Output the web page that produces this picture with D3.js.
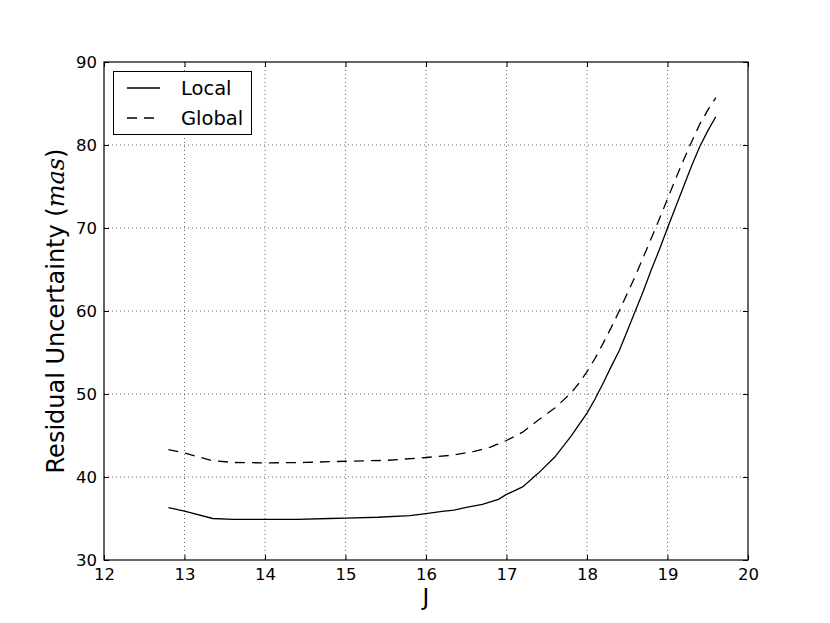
<!DOCTYPE html>
<html><head><meta charset="utf-8">
<script src="https://cdn.jsdelivr.net/npm/d3@7"></script>
<style>body{margin:0;background:#fff}svg{display:block}text{font-family:"DejaVu Sans",sans-serif;fill:#000}</style>
</head><body>
<svg id="c" width="830" height="623"></svg>
<script>
const localJ = [12.8,13.0,13.35,13.6,14.0,14.4,14.8,15.0,15.4,15.8,16.0,16.2,16.35,16.5,16.7,16.9,17.0,17.2,17.4,17.6,17.8,18.0,18.1,18.2,18.3,18.4,18.5,18.6,18.7,18.8,18.9,19.0,19.1,19.2,19.3,19.4,19.5,19.6];
const localU = [36.3,35.9,35.0,34.9,34.9,34.9,35.0,35.05,35.15,35.35,35.6,35.85,36.0,36.35,36.7,37.3,37.9,38.8,40.5,42.4,44.9,47.7,49.4,51.3,53.3,55.2,57.6,60.0,62.4,65.0,67.4,70.0,72.5,75.0,77.5,79.8,81.7,83.4];
const globalJ = [12.8,13.0,13.33,13.6,14.0,14.5,15.0,15.5,16.0,16.35,16.6,16.8,17.0,17.2,17.4,17.6,17.7,17.8,17.9,18.0,18.1,18.2,18.3,18.4,18.5,18.6,18.7,18.8,18.9,19.0,19.1,19.2,19.3,19.4,19.5,19.6];
const globalU = [43.3,42.9,42.0,41.75,41.7,41.75,41.9,42.0,42.35,42.65,43.1,43.6,44.4,45.4,46.9,48.3,49.2,50.1,51.3,52.7,54.3,56.1,58.0,60.0,62.1,64.2,66.5,68.8,71.1,73.5,75.9,78.2,80.4,82.5,84.2,85.7];
const xTicks = [12,13,14,15,16,17,18,19,20];
const yTicks = [30,40,50,60,70,80,90];
const seriesNames = ["Local","Global"];

const svg = d3.select("#c");
const L=104, R=748, T=62, B=560;
const x = d3.scaleLinear().domain([12,20]).range([L,R]);
const y = d3.scaleLinear().domain([30,90]).range([B,T]);

// grid
const g = svg.append("g");
g.selectAll(".gx").data(xTicks.slice(1,-1)).enter().append("line")
 .attr("x1",d=>x(d)).attr("x2",d=>x(d)).attr("y1",T).attr("y2",B)
 .attr("stroke","#000").attr("stroke-width",0.6).attr("stroke-dasharray","1,3");
g.selectAll(".gy").data(yTicks.slice(1,-1)).enter().append("line")
 .attr("y1",d=>y(d)).attr("y2",d=>y(d)).attr("x1",L).attr("x2",R)
 .attr("stroke","#000").attr("stroke-width",0.6).attr("stroke-dasharray","1,3");

// axes (inward ticks on all sides)
const tk=5;
const axB = svg.append("g").attr("transform",`translate(0,${B})`)
 .call(d3.axisBottom(x).tickValues(xTicks).tickSize(-tk).tickPadding(8).tickFormat(d3.format("d")));
const axT = svg.append("g").attr("transform",`translate(0,${T})`)
 .call(d3.axisTop(x).tickValues(xTicks).tickSize(-tk).tickFormat(""));
const axL = svg.append("g").attr("transform",`translate(${L},0)`)
 .call(d3.axisLeft(y).tickValues(yTicks).tickSize(-tk).tickPadding(7).tickFormat(d3.format("d")));
const axR = svg.append("g").attr("transform",`translate(${R},0)`)
 .call(d3.axisRight(y).tickValues(yTicks).tickSize(-tk).tickFormat(""));
[axB,axT,axL,axR].forEach(a=>{
  a.select(".domain").remove();
  a.selectAll(".tick line").attr("stroke","#000").attr("stroke-width",1);
  a.selectAll("text").style("font-family","DejaVu Sans").style("font-size","16.5px").attr("fill","#000");
});
axB.selectAll("text").attr("dy","0.72em");
svg.append("rect").attr("x",L).attr("y",T).attr("width",R-L).attr("height",B-T)
 .attr("fill","none").attr("stroke","#000").attr("stroke-width",1.2);

// lines
const line = (xs,ys)=>d3.line().x((d,i)=>x(xs[i])).y((d,i)=>y(ys[i]))(xs);
svg.append("path").attr("d",line(localJ,localU)).attr("fill","none").attr("stroke","#000").attr("stroke-width",1.3);
svg.append("path").attr("d",line(globalJ,globalU)).attr("fill","none").attr("stroke","#000").attr("stroke-width",1.3).attr("stroke-dasharray","10,7");

// labels
svg.append("text").attr("x",426).attr("y",605).attr("text-anchor","middle").style("font-size","23px").text("J");
const yl = svg.append("text").attr("transform","translate(64,311) rotate(-90)").attr("text-anchor","middle").style("font-size","24px");
yl.append("tspan").text("Residual Uncertainty (");
yl.append("tspan").style("font-family","DejaVu Serif").style("font-style","italic").text("mas");
yl.append("tspan").text(")");

// legend
const lg = svg.append("g");
lg.append("rect").attr("x",113.5).attr("y",71.5).attr("width",138).attr("height",63).attr("fill","#fff").attr("stroke","#000").attr("stroke-width",1);
seriesNames.forEach((n,i)=>{
  const yy = 88+i*30;
  lg.append("line").attr("x1",127).attr("x2",160).attr("y1",yy).attr("y2",yy).attr("stroke","#000").attr("stroke-width",1.3)
    .attr("stroke-dasharray", i===1?"10,7":null);
  lg.append("text").attr("x",181).attr("y",yy).attr("dy","0.36em").style("font-size","19.5px").text(n);
});
</script>
</body></html>
